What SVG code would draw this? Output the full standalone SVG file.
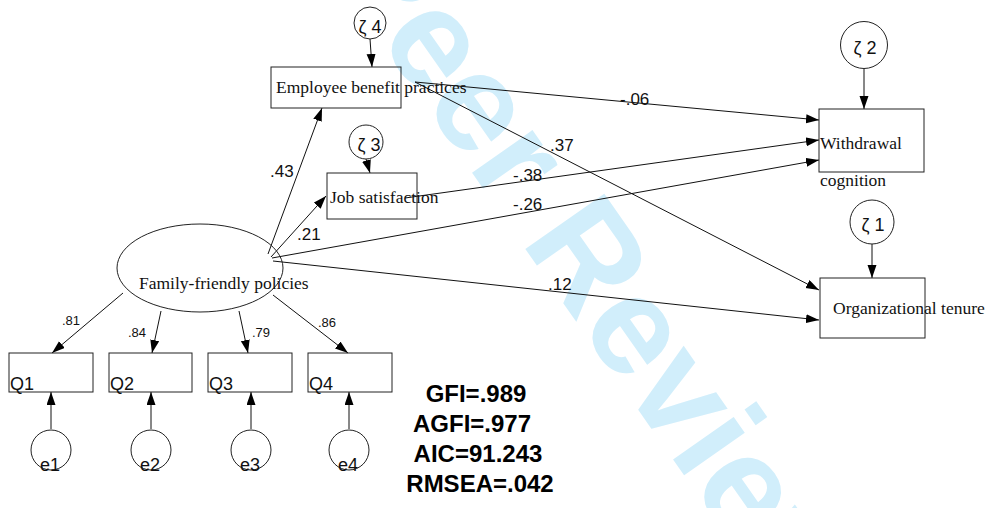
<svg xmlns="http://www.w3.org/2000/svg" width="989" height="508" viewBox="0 0 989 508">
<style>
.box{fill:none;stroke:#222;stroke-width:1}
.lbl{font-family:"Liberation Serif","Times New Roman",serif;font-size:17.5px;fill:#111}
.num{font-family:"Liberation Sans",Arial,sans-serif;font-size:17px;fill:#111}
.sm{font-family:"Liberation Sans",Arial,sans-serif;font-size:13px;fill:#111}
.q{font-family:"Liberation Sans",Arial,sans-serif;font-size:18px;fill:#111}
.st{font-family:"Liberation Sans",Arial,sans-serif;font-size:24px;font-weight:bold;fill:#000;text-anchor:middle}
.wm{font-family:"Liberation Sans",Arial,sans-serif;font-size:140px;font-weight:bold;fill:#d1eefb}
.c line{stroke:#111;stroke-width:1;marker-end:url(#ah)}
</style>
<defs>
<marker id="ah" markerUnits="userSpaceOnUse" markerWidth="14" markerHeight="10" refX="13" refY="4.5" orient="auto">
<path d="M0,0 L13,4.5 L0,9 z" fill="#000"/>
</marker>
</defs>
<rect width="989" height="508" fill="#fff"/>
<g id="watermark">
<text class="wm" transform="translate(172,-256) rotate(55)">For Peer Review</text>
</g>
<g id="connectors" class="c">
<line x1="268" y1="254" x2="322" y2="108"/>
<line x1="271" y1="257" x2="326" y2="196"/>
<line x1="272" y1="258" x2="819" y2="160"/>
<line x1="273" y1="261" x2="819" y2="320"/>
<line x1="415" y1="82" x2="819" y2="120"/>
<line x1="415" y1="82" x2="819" y2="290"/>
<line x1="405" y1="198" x2="819" y2="140"/>
<line x1="123" y1="293" x2="52" y2="353"/>
<line x1="161" y1="311" x2="152" y2="353"/>
<line x1="239" y1="311" x2="248" y2="353"/>
<line x1="273" y1="295" x2="348" y2="353"/>
<line x1="51" y1="429" x2="51" y2="392"/>
<line x1="151" y1="429" x2="151" y2="392"/>
<line x1="251" y1="429" x2="251" y2="392"/>
<line x1="349" y1="429" x2="349" y2="392"/>
<line x1="370" y1="39" x2="372" y2="67"/>
<line x1="366" y1="159" x2="370" y2="173"/>
<line x1="864" y1="69" x2="864" y2="109"/>
<line x1="872" y1="244" x2="872" y2="278"/>
</g>
<g id="path-labels">
<text class="num" x="270" y="177">.43</text>
<text class="num" x="297" y="240">.21</text>
<text class="num" x="620" y="105">-.06</text>
<text class="num" x="550" y="151">.37</text>
<text class="num" x="513" y="181">-.38</text>
<text class="num" x="513" y="210">-.26</text>
<text class="num" x="548" y="290">.12</text>
<text class="sm" x="62" y="325">.81</text>
<text class="sm" x="128" y="337">.84</text>
<text class="sm" x="252" y="337">.79</text>
<text class="sm" x="318" y="327">.86</text>
</g>
<g id="ffp">
<ellipse class="box" cx="200" cy="268" rx="83" ry="44"/>
<text class="lbl" x="139" y="289">Family-friendly policies</text>
</g>
<g id="ebp">
<rect class="box" x="271" y="67" width="130" height="41"/>
<text class="lbl" x="276" y="93">Employee benefit practices</text>
</g>
<g id="js">
<rect class="box" x="327" y="173" width="90" height="46"/>
<text class="lbl" x="330" y="203">Job satisfaction</text>
</g>
<g id="wc">
<rect class="box" x="819" y="109" width="105" height="63"/>
<text class="lbl" x="820" y="149">Withdrawal</text>
<text class="lbl" x="820" y="186">cognition</text>
</g>
<g id="ot">
<rect class="box" x="820" y="278" width="105" height="60"/>
<text class="lbl" x="833" y="314">Organizational tenure</text>
</g>
<g id="z4"><circle class="box" cx="370" cy="23" r="16"/><text class="q" x="370" y="33" text-anchor="middle">ζ 4</text></g>
<g id="z3"><circle class="box" cx="366" cy="142" r="17"/><text class="q" x="369" y="151" text-anchor="middle">ζ 3</text></g>
<g id="z2"><circle class="box" cx="864" cy="45" r="23.5"/><text class="q" x="865" y="54" text-anchor="middle">ζ 2</text></g>
<g id="z1"><circle class="box" cx="872" cy="222" r="22"/><text class="q" x="873" y="231" text-anchor="middle">ζ 1</text></g>
<g id="q1"><rect class="box" x="9" y="353" width="84" height="39"/><text class="q" x="10" y="390">Q1</text></g>
<g id="q2"><rect class="box" x="109" y="353" width="83" height="39"/><text class="q" x="110" y="390">Q2</text></g>
<g id="q3"><rect class="box" x="208" y="353" width="84" height="39"/><text class="q" x="209" y="390">Q3</text></g>
<g id="q4"><rect class="box" x="308" y="353" width="84" height="39"/><text class="q" x="309" y="390">Q4</text></g>
<g id="e1"><circle class="box" cx="51" cy="450" r="20"/><text class="q" x="50" y="471" text-anchor="middle">e1</text></g>
<g id="e2"><circle class="box" cx="151" cy="450" r="20"/><text class="q" x="150" y="471" text-anchor="middle">e2</text></g>
<g id="e3"><circle class="box" cx="251" cy="450" r="20"/><text class="q" x="250" y="471" text-anchor="middle">e3</text></g>
<g id="e4"><circle class="box" cx="349" cy="450" r="20"/><text class="q" x="348" y="471" text-anchor="middle">e4</text></g>
<g id="fit">
<text class="st" x="476" y="402">GFI=.989</text>
<text class="st" x="472" y="432">AGFI=.977</text>
<text class="st" x="478" y="462">AIC=91.243</text>
<text class="st" x="480" y="492">RMSEA=.042</text>
</g>
</svg>
